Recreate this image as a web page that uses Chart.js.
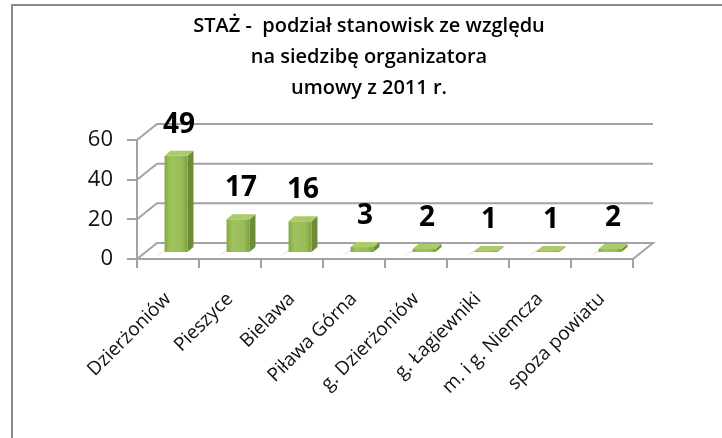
<!DOCTYPE html>
<html>
<head>
<meta charset="utf-8">
<script src="https://cdn.jsdelivr.net/npm/chart.js@4/dist/chart.umd.min.js"></script>
<style>
    html, body { margin: 0; padding: 0; background: #fff; overflow: hidden; }
    #frame { position: absolute; left: 11px; top: 4px; width: 740px; height: 470px; border: 2px solid #8a8a8a; box-sizing: border-box; }
    #wrap { position: absolute; left: 0; top: 0; width: 722px; height: 438px; }
</style>
</head>
<body>
<div id="frame"></div>
<div id="wrap"><canvas id="chart"></canvas></div>
<script>
const categories = ['Dzierżoniów', 'Pieszyce', 'Bielawa', 'Piława Górna', 'g. Dzierżoniów', 'g. Łagiewniki', 'm. i g. Niemcza', 'spoza powiatu'];
const values = [49, 17, 16, 3, 2, 1, 1, 2];
const yTicks = [0, 20, 40, 60];
const titleLines = ['STAŻ -  podział stanowisk ze względu', 'na siedzibę organizatora', 'umowy z 2011 r.'];

const FONT = '"Open Sans", sans-serif';
const GRID = '#a3a3a3';
// przesunięcia "3D"
const wall = { dx: 20, dy: -16 };
const shift = { dx: 8, dy: -6 };
const side = { dx: 6, dy: -5 };

const wallPlugin = {
    id: 'wall3d',
    beforeDatasetsDraw(chart) {
        const { ctx, chartArea: a, scales: { y } } = chart;
        ctx.save();
        ctx.strokeStyle = GRID;
        ctx.lineWidth = 2;
        // podłoga
        const y0 = y.getPixelForValue(0);
        ctx.beginPath();
        ctx.moveTo(a.left, y0);
        ctx.lineTo(a.left + wall.dx, y0 + wall.dy);
        ctx.lineTo(a.right + wall.dx, y0 + wall.dy);
        ctx.lineTo(a.right, y0);
        ctx.stroke();
        // linie siatki na tylnej ścianie
        yTicks.filter(v => v > 0).forEach(v => {
            const py = y.getPixelForValue(v);
            ctx.beginPath();
            ctx.moveTo(a.left, py);
            ctx.lineTo(a.left + wall.dx, py + wall.dy);
            ctx.lineTo(a.right + wall.dx, py + wall.dy);
            ctx.stroke();
        });
        ctx.restore();
    },
    afterDatasetsDraw(chart) {
        const { ctx } = chart;
        const meta = chart.getDatasetMeta(0);
        ctx.save();
        meta.data.forEach((el, i) => {
            const p = el.getProps(['x', 'y', 'base', 'width'], true);
            const xl = p.x - p.width / 2 + shift.dx;
            const xr = p.x + p.width / 2 + shift.dx;
            const top = p.y + shift.dy;
            const bot = p.base + shift.dy;

            // cień na podłodze
            ctx.fillStyle = 'rgba(0,0,0,0.08)';
            ctx.beginPath();
            ctx.moveTo(xl - 8, bot + 4);
            ctx.lineTo(xl, bot);
            ctx.lineTo(xl + side.dx, bot + side.dy);
            ctx.lineTo(xl + side.dx - 10, bot + side.dy + 5);
            ctx.closePath();
            ctx.fill();

            // bok
            ctx.fillStyle = '#6e8c36';
            ctx.beginPath();
            ctx.moveTo(xr, top);
            ctx.lineTo(xr + side.dx, top + side.dy);
            ctx.lineTo(xr + side.dx, bot + side.dy);
            ctx.lineTo(xr, bot);
            ctx.closePath();
            ctx.fill();

            // front
            const g = ctx.createLinearGradient(xl, 0, xr, 0);
            g.addColorStop(0, '#86a845');
            g.addColorStop(0.25, '#9ec35e');
            g.addColorStop(0.75, '#98bc57');
            g.addColorStop(1, '#7f9f40');
            ctx.fillStyle = g;
            ctx.fillRect(xl, top, xr - xl, bot - top);

            // góra
            ctx.fillStyle = '#a9cb6a';
            ctx.beginPath();
            ctx.moveTo(xl, top);
            ctx.lineTo(xl + side.dx, top + side.dy);
            ctx.lineTo(xr + side.dx, top + side.dy);
            ctx.lineTo(xr, top);
            ctx.closePath();
            ctx.fill();

            // etykieta wartości
            ctx.fillStyle = '#000';
            ctx.font = 'bold 28px ' + FONT;
            ctx.textAlign = 'center';
            ctx.textBaseline = 'middle';
            ctx.fillText(values[i], (xl + xr + side.dx) / 2, top - 31);
        });
        ctx.restore();
    },
    afterDraw(chart) {
        const { ctx } = chart;
        ctx.save();
        ctx.fillStyle = '#000';
        ctx.font = '600 20px ' + FONT;
        ctx.textAlign = 'center';
        ctx.textBaseline = 'middle';
        titleLines.forEach((t, i) => ctx.fillText(t, 369, 26 + i * 31));
        ctx.restore();
    }
};

new Chart(document.getElementById('chart'), {
    type: 'bar',
    data: {
        labels: categories,
        datasets: [{
            data: values,
            backgroundColor: 'rgba(0,0,0,0)',
            barPercentage: 0.37,
            categoryPercentage: 1
        }]
    },
    options: {
        responsive: true, maintainAspectRatio: false, animation: false,
        layout: { padding: { left: 0, right: 89, top: 140, bottom: 0 } },
        plugins: { legend: { display: false }, tooltip: { enabled: false } },
        scales: {
            x: {
                grid: { drawOnChartArea: false, offset: true, tickLength: 9, color: GRID, lineWidth: 2 },
                border: { color: GRID, width: 2 },
                ticks: { minRotation: 45, maxRotation: 45, autoSkip: false, color: '#111', padding: 20, font: { family: FONT, size: 19 } },
                afterFit: s => { s.height = 179; }
            },
            y: {
                min: 0, max: 60,
                afterBuildTicks: s => { s.ticks = yTicks.map(v => ({ value: v })); },
                grid: { drawOnChartArea: false, tickLength: 10, color: GRID, lineWidth: 2 },
                border: { color: GRID, width: 2 },
                ticks: { padding: 14, color: '#111', font: { family: FONT, size: 22 } },
                afterFit: s => { s.width = 137; }
            }
        }
    },
    plugins: [wallPlugin]
});
</script>
</body>
</html>
